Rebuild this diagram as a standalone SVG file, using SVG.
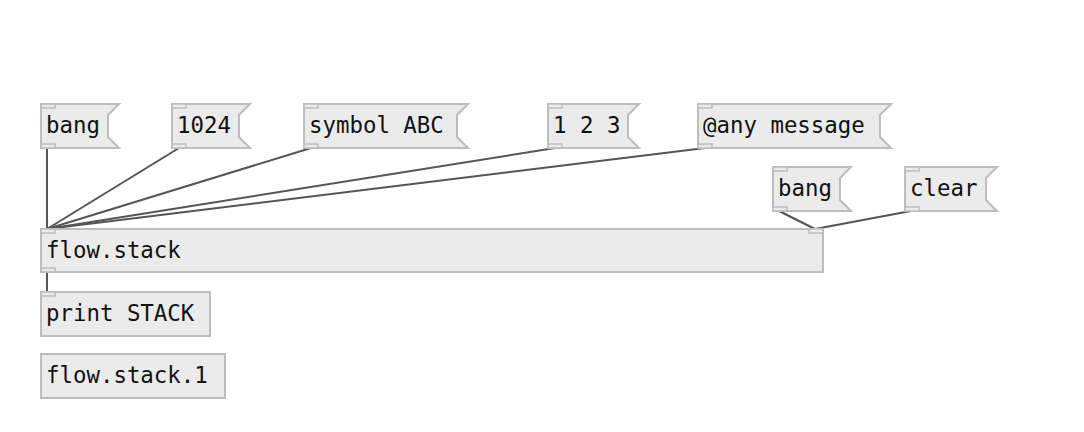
<svg xmlns="http://www.w3.org/2000/svg" width="1084" height="432" viewBox="0 0 1084 432">
<style>
.box{fill:#ebebeb;stroke:#bdbdbd;stroke-width:2}
.io{fill:#ebebeb;stroke:#bdbdbd;stroke-width:1.5}
.t{font-family:"DejaVu Sans Mono","Liberation Mono",monospace;font-size:22.4px;fill:#111}
.c{stroke:#555;stroke-width:2;fill:none}
</style>
<rect width="1084" height="432" fill="#fff"/>
<g id="connectors">
<line class="c" x1="47" y1="148" x2="47" y2="229"/>
<line class="c" x1="179" y1="148" x2="47" y2="229"/>
<line class="c" x1="311" y1="148" x2="47" y2="229"/>
<line class="c" x1="555" y1="148" x2="47" y2="229"/>
<line class="c" x1="705" y1="148" x2="47" y2="229"/>
<line class="c" x1="779" y1="211" x2="815" y2="229"/>
<line class="c" x1="911" y1="211" x2="815" y2="229"/>
<line class="c" x1="47" y1="272" x2="47" y2="292"/>
</g>
<g id="msg-bang">
<polygon class="box" points="41,104 119,104 108,115 108,137 119,148 41,148"/>
<rect class="io" x="41" y="104" width="14" height="4"/><rect class="io" x="41" y="144" width="14" height="4"/>
<text class="t" x="46" y="133">bang</text>
</g>
<g id="msg-1024">
<polygon class="box" points="172,104 250,104 239,115 239,137 250,148 172,148"/>
<rect class="io" x="172" y="104" width="14" height="4"/><rect class="io" x="172" y="144" width="14" height="4"/>
<text class="t" x="177" y="133">1024</text>
</g>
<g id="msg-symbol">
<polygon class="box" points="304,104 468,104 457,115 457,137 468,148 304,148"/>
<rect class="io" x="304" y="104" width="14" height="4"/><rect class="io" x="304" y="144" width="14" height="4"/>
<text class="t" x="309" y="133">symbol ABC</text>
</g>
<g id="msg-123">
<polygon class="box" points="548,104 639,104 628,115 628,137 639,148 548,148"/>
<rect class="io" x="548" y="104" width="14" height="4"/><rect class="io" x="548" y="144" width="14" height="4"/>
<text class="t" x="553" y="133">1 2 3</text>
</g>
<g id="msg-any">
<polygon class="box" points="698,104 891,104 880,115 880,137 891,148 698,148"/>
<rect class="io" x="698" y="104" width="14" height="4"/><rect class="io" x="698" y="144" width="14" height="4"/>
<text class="t" x="703" y="133">@any message</text>
</g>
<g id="msg-bang2">
<polygon class="box" points="773,167 851,167 840,178 840,200 851,211 773,211"/>
<rect class="io" x="773" y="167" width="14" height="4"/><rect class="io" x="773" y="207" width="14" height="4"/>
<text class="t" x="778" y="196">bang</text>
</g>
<g id="msg-clear">
<polygon class="box" points="905,167 997,167 986,178 986,200 997,211 905,211"/>
<rect class="io" x="905" y="167" width="14" height="4"/><rect class="io" x="905" y="207" width="14" height="4"/>
<text class="t" x="910" y="196">clear</text>
</g>
<g id="obj-flowstack">
<rect class="box" x="41" y="229" width="782" height="43"/>
<rect class="io" x="41" y="229" width="14" height="4"/><rect class="io" x="809" y="229" width="14" height="4"/>
<rect class="io" x="41" y="268" width="14" height="4"/>
<text class="t" x="46" y="258">flow.stack</text>
</g>
<g id="obj-print">
<rect class="box" x="41" y="292" width="169" height="44"/>
<rect class="io" x="41" y="292" width="14" height="4"/>
<text class="t" x="46" y="321">print STACK</text>
</g>
<g id="obj-flowstack1">
<rect class="box" x="41" y="354" width="184" height="44"/>
<text class="t" x="46" y="383">flow.stack.1</text>
</g>
</svg>
